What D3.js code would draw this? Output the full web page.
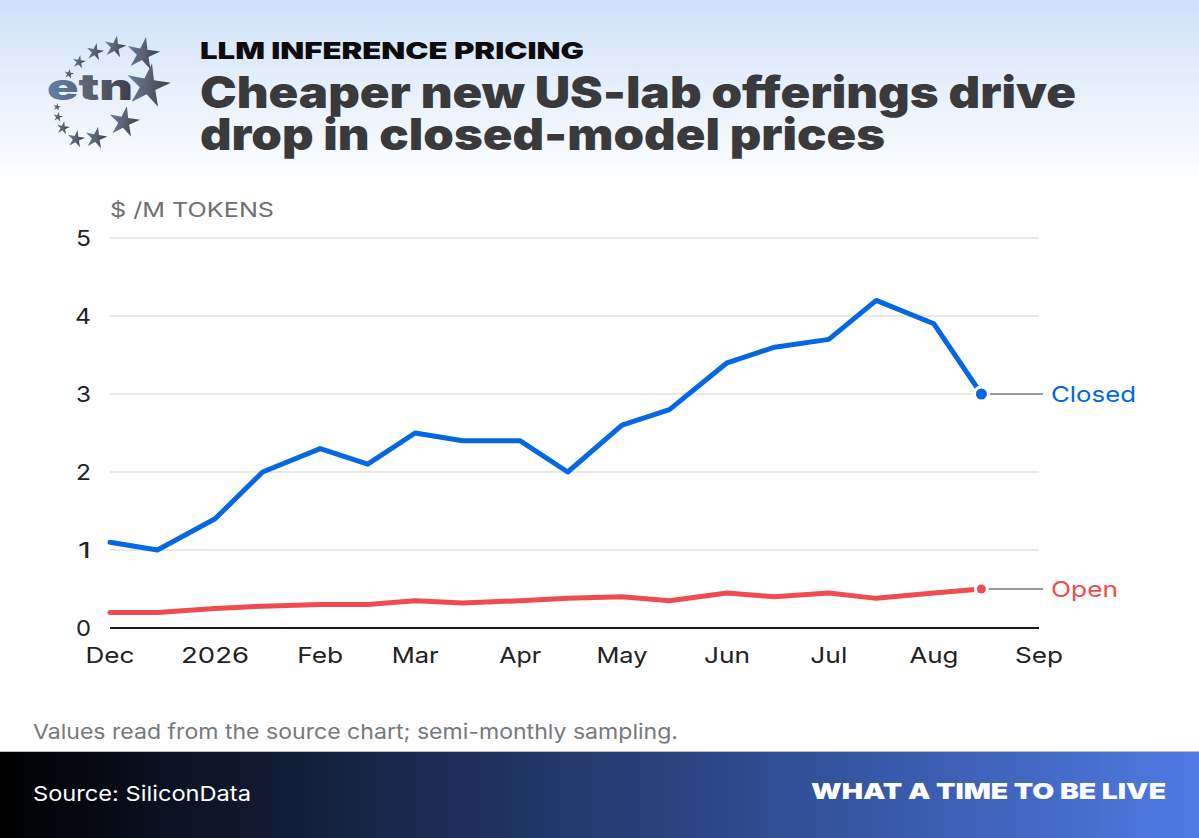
<!DOCTYPE html>
<html><head><meta charset="utf-8">
<script src="https://cdn.jsdelivr.net/npm/d3@7"></script>
<style>html,body{margin:0;padding:0;background:#fff;overflow:hidden}svg{display:block}text{font-family:Inter,"Liberation Sans",sans-serif}</style>
</head><body><div id="c"></div>
<script>
const dates=["2025-12-01","2025-12-15","2026-01-01","2026-01-15","2026-02-01","2026-02-15","2026-03-01","2026-03-15","2026-04-01","2026-04-15","2026-05-01","2026-05-15","2026-06-01","2026-06-15","2026-07-01","2026-07-15","2026-08-01","2026-08-15"];
const closedValues=[1.1,1.0,1.4,2.0,2.3,2.1,2.5,2.4,2.4,2.0,2.6,2.8,3.4,3.6,3.7,4.2,3.9,3.0];
const openValues=[0.2,0.2,0.25,0.28,0.3,0.3,0.35,0.32,0.35,0.38,0.4,0.35,0.45,0.4,0.45,0.38,0.45,0.5];
const yTicks=[0,1,2,3,4,5];
const xTickDates=["2025-12-01","2026-01-01","2026-02-01","2026-03-01","2026-04-01","2026-05-01","2026-06-01","2026-07-01","2026-08-01","2026-09-01"];
const xTickLabels=["Dec","2026","Feb","Mar","Apr","May","Jun","Jul","Aug","Sep"];
const W=1199,H=838;
const parse=d3.utcParse("%Y-%m-%d");
const svg=d3.select("#c").append("svg").attr("width",W).attr("height",H).attr("viewBox",`0 0 ${W} ${H}`);
const defs=svg.append("defs");
function grad(id,x2,y2,stops){const g=defs.append("linearGradient").attr("id",id).attr("x1",0).attr("y1",0).attr("x2",x2).attr("y2",y2);
 stops.forEach(s=>g.append("stop").attr("offset",s[0]).attr("stop-color",s[1]));}
grad("hd",0,1,[[0,"#cfe1f8"],[0.5,"#e9f1fc"],[1,"#ffffff"]]);
grad("ft",1,0,[[0,"#000000"],[0.35,"#1a2a50"],[0.7,"#34549f"],[1,"#507ae4"]]);
grad("logo",1,0,[[0,"#5f7fa8"],[0.5,"#5a6170"],[1,"#3b3f4a"]]);
svg.append("rect").attr("width",W).attr("height",190).attr("fill","url(#hd)");

// stretched text helper: real text, fitted to a measured width
function T(x,y,s,size,weight,fill,width,anchor){
 const t=svg.append("text").attr("x",x).attr("y",y).attr("font-size",size).attr("font-weight",weight).attr("fill",fill).text(s);
 if(anchor)t.attr("text-anchor",anchor);
 if(width)t.attr("textLength",width).attr("lengthAdjust","spacingAndGlyphs");
 return t;}

// logo
const stars=[[143,54,15,-10],[115,47,10,-10],[95,52,8,-10],[79,62,6,-10],[69,74,4.5,-10],[148,86,20,-10],[124,122,14,-10],[96,138,10,-10],[76,139,8,-10],[63,128,6,-10],[58,117,4.5,-10],[57,107,3.5,-10]];
function starPath(r){return d3.range(10).map(i=>{const a=-Math.PI/2+i*Math.PI/5,q=i%2?r*0.36:r;return [q*Math.cos(a),q*Math.sin(a)];});}
const lg=svg.append("g");
lg.selectAll("path").data(stars).join("path").attr("d",d=>d3.line()(starPath(d[2]*1.15))+"Z")
 .attr("transform",d=>`translate(${d[0]},${d[1]}) rotate(${d[3]+20})`).attr("fill","url(#logo)");
lg.append("text").attr("x",47).attr("y",100).attr("font-size",36).attr("font-weight",900).attr("fill","url(#logo)").attr("textLength",86).attr("lengthAdjust","spacingAndGlyphs").text("etn");

// headings
T(200,59,"LLM INFERENCE PRICING",23,900,"#0c0c0e",384);
T(200,108,"Cheaper new US-lab offerings drive",44,900,"#3a3a3c",876);
T(200,150,"drop in closed-model prices",44,900,"#3a3a3c",685);

// chart
const x=d3.scaleUtc().domain([parse("2025-12-01"),parse("2026-09-01")]).range([110,1039]);
const y=d3.scaleLinear().domain([0,5]).range([628,238]);
svg.append("g").selectAll("line").data(yTicks.filter(d=>d>0)).join("line")
 .attr("x1",110).attr("x2",1039).attr("y1",y).attr("y2",y).attr("stroke","#e8e8e8").attr("stroke-width",2);
svg.append("line").attr("x1",110).attr("x2",1039).attr("y1",y(0)).attr("y2",y(0)).attr("stroke","#1a1a1a").attr("stroke-width",2);
const yW={0:15,1:13,2:15,3:15,4:16,5:15};
yTicks.forEach(d=>T(91,y(d)+8,String(d),22,400,"#222",yW[d],"end"));
const xW={Dec:49,"2026":68,Feb:46,Mar:47,Apr:42,May:51,Jun:46,Jul:37,Aug:49,Sep:48};
xTickLabels.forEach((l,i)=>T(x(parse(xTickDates[i])),663,l,22,400,"#222",xW[l],"middle"));
T(110,217,"$ /M TOKENS",20,400,"#6f7072",164);

const line=d3.line().x((d,i)=>x(parse(dates[i]))).y(d=>y(d));
const ex=x(parse(dates[dates.length-1]));
function series(vals,col,lw,r,label,lblW,skip){
 const last=vals[vals.length-1];
 svg.append("line").attr("x1",ex).attr("x2",1043).attr("y1",y(last)).attr("y2",y(last)).attr("stroke","#9a9a9a").attr("stroke-width",2);
 svg.append("path").attr("d",line(vals)).attr("fill","none").attr("stroke",col).attr("stroke-width",lw).attr("stroke-linecap","round").attr("stroke-linejoin","round");
 svg.append("circle").attr("cx",ex).attr("cy",y(last)).attr("r",r+3).attr("fill","#fff");
 svg.append("circle").attr("cx",ex).attr("cy",y(last)).attr("r",r).attr("fill",col);
 T(1051,y(last)+7.5,label,22,400,col,lblW);
}
series(closedValues,"#0567e2",5,5.5,"Closed",85);
series(openValues,"#ee4c50",5,4.5,"Open",67);

// footer
T(33,739,"Values read from the source chart; semi-monthly sampling.",20.5,400,"#77787a",645);
svg.append("rect").attr("y",751).attr("width",W).attr("height",1).attr("fill","#b8bcc4");
svg.append("rect").attr("y",752).attr("width",W).attr("height",86).attr("fill","url(#ft)");
T(33,801,"Source: SiliconData",20.5,400,"#fff",218);
T(1166,799,"WHAT A TIME TO BE LIVE",22,900,"#fff",355,"end");
</script></body></html>
